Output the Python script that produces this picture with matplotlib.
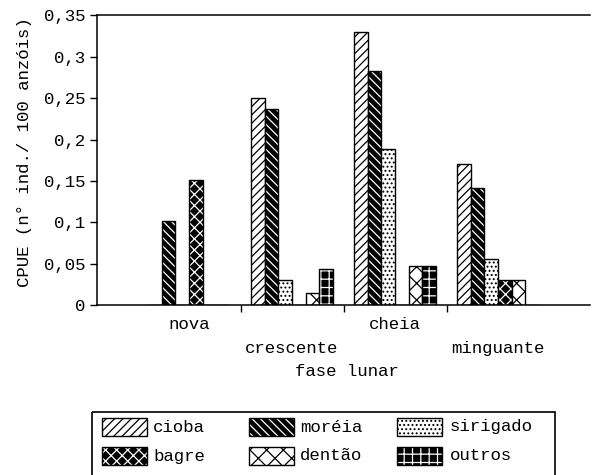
import matplotlib
matplotlib.use("Agg")
import matplotlib.pyplot as plt
import numpy as np
from matplotlib.patches import Rectangle
import matplotlib.transforms as mtransforms

phases = ["nova", "crescente", "cheia", "minguante"]
series = ["cioba", "moréia", "sirigado", "bagre", "dentão", "outros"]
cioba = [0.0, 0.250, 0.330, 0.170]
moreia = [0.101, 0.237, 0.283, 0.141]
sirigado = [0.0, 0.030, 0.189, 0.056]
bagre = [0.151, 0.0, 0.0, 0.030]
dentao = [0.0, 0.0145, 0.047, 0.030]
outros = [0.0, 0.044, 0.047, 0.0]
values = [cioba, moreia, sirigado, bagre, dentao, outros]
yticks = [0, 0.05, 0.1, 0.15, 0.2, 0.25, 0.3, 0.35]
ytick_labels = ["0", "0,05", "0,1", "0,15", "0,2", "0,25", "0,3", "0,35"]

styles = [
    dict(face="white", hc="black", hatch="////"),
    dict(face="black", hc="white", hatch="\\\\\\\\"),
    dict(face="white", hc="black", hatch="...."),
    dict(face="black", hc="white", hatch="xxx"),
    dict(face="white", hc="black", hatch="xx"),
    dict(face="black", hc="white", hatch="++"),
]

FONT = "Liberation Mono"
FS = 12.5
plt.rcParams["font.family"] = FONT
plt.rcParams["hatch.linewidth"] = 0.9

fig = plt.figure(figsize=(5.92, 4.75), dpi=100)
ax = fig.add_axes([0.1639, 0.3579, 0.8327, 0.6095])

x = np.arange(len(phases))
w = 0.132
for i, (name, vals, st) in enumerate(zip(series, values, styles)):
    pos = x + (i - 2.5) * w
    ax.bar(pos, vals, w, color=st["face"], edgecolor=st["hc"], hatch=st["hatch"], linewidth=0)
    ax.bar(pos, vals, w, fill=False, edgecolor="black", linewidth=1.0)

ax.set_xlim(-0.893, 3.893)
ax.set_ylim(0, 0.35)
ax.set_yticks(yticks)
ax.set_yticklabels(ytick_labels, fontsize=FS)
ax.set_xticks([0.5, 1.5, 2.5])
ax.set_xticklabels([])
ax.tick_params(axis="both", direction="out", length=5, width=1.0)
ax.spines["right"].set_visible(False)
for s in ["left", "bottom", "top"]:
    ax.spines[s].set_linewidth(1.1)

trans = mtransforms.blended_transform_factory(ax.transData, ax.transAxes)
label_y = [-0.069, -0.149, -0.069, -0.149]
for xi, lab, ly in zip(x, phases, label_y):
    ax.text(xi, ly, lab, transform=trans, ha="center", va="center", fontsize=FS)

fig.text(347 / 592, 1 - 372 / 475, "fase lunar", ha="center", va="center", fontsize=FS)
fig.text(25 / 592, 1 - 152 / 475, "CPUE (n° ind./ 100 anzóis)", ha="center", va="center",
         rotation=90, fontsize=FS)

# legend drawn in pixel coordinates on an overlay axes
lg = fig.add_axes([0, 0, 1, 1], facecolor="none")
lg.set_xlim(0, 592)
lg.set_ylim(475, 0)
lg.axis("off")
lg.add_patch(Rectangle((92, 412), 555 - 92, 80, fill=False, edgecolor="black",
                       linewidth=1.2, clip_on=False))
col_x = [102, 249, 397]
text_x = [153, 300, 450]
row_y = [418, 447]
layout = [(0, 0), (0, 1), (0, 2), (1, 0), (1, 1), (1, 2)]
for (r, c), name, st in zip(layout, series, styles):
    lg.add_patch(Rectangle((col_x[c], row_y[r]), 45, 18, facecolor=st["face"],
                           edgecolor=st["hc"], hatch=st["hatch"], linewidth=0))
    lg.add_patch(Rectangle((col_x[c], row_y[r]), 45, 18, fill=False,
                           edgecolor="black", linewidth=1.0))
    lg.text(text_x[c], row_y[r] + 9, name, ha="left", va="center", fontsize=FS)

fig.savefig("out.png", dpi=100)
